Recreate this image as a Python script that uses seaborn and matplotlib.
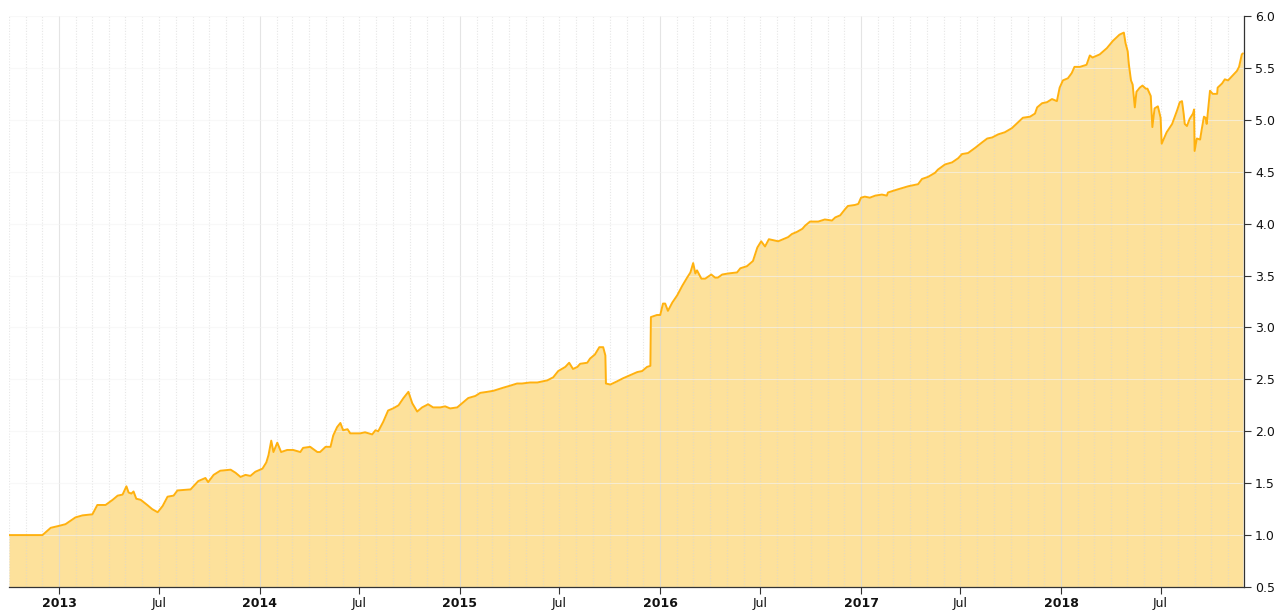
import matplotlib
matplotlib.use("Agg")
import matplotlib.pyplot as plt
import matplotlib.dates as mdates
import matplotlib.ticker as mticker
import numpy as np
import pandas as pd
import seaborn as sns

dates = [
    "2012-10-01", "2012-12-01", "2012-12-16", "2013-01-01", "2013-01-12", "2013-01-30",
    "2013-02-12", "2013-03-02", "2013-03-11", "2013-03-26", "2013-04-08", "2013-04-17",
    "2013-04-26", "2013-05-03", "2013-05-07", "2013-05-12", "2013-05-16", "2013-05-21",
    "2013-05-29", "2013-06-10", "2013-06-19", "2013-06-29", "2013-07-08", "2013-07-17",
    "2013-07-28", "2013-08-04", "2013-08-28", "2013-09-11", "2013-09-24", "2013-09-29",
    "2013-10-09", "2013-10-21", "2013-11-09", "2013-11-18", "2013-11-27", "2013-12-06",
    "2013-12-15", "2013-12-24", "2014-01-06", "2014-01-13", "2014-01-17", "2014-01-22",
    "2014-01-26", "2014-02-02", "2014-02-09", "2014-02-20", "2014-03-03", "2014-03-16",
    "2014-03-21", "2014-04-03", "2014-04-16", "2014-04-21", "2014-05-01", "2014-05-10",
    "2014-05-15", "2014-05-22", "2014-05-28", "2014-06-02", "2014-06-10", "2014-06-15",
    "2014-07-03", "2014-07-12", "2014-07-25", "2014-07-31", "2014-08-05", "2014-08-14",
    "2014-08-23", "2014-09-01", "2014-09-11", "2014-09-20", "2014-09-29", "2014-10-06",
    "2014-10-15", "2014-10-24", "2014-11-04", "2014-11-13", "2014-11-26", "2014-12-05",
    "2014-12-14", "2014-12-27", "2015-01-07", "2015-01-16", "2015-01-29", "2015-02-07",
    "2015-02-20", "2015-03-03", "2015-03-21", "2015-04-03", "2015-04-15", "2015-04-24",
    "2015-05-09", "2015-05-22", "2015-06-09", "2015-06-20", "2015-06-29", "2015-07-12",
    "2015-07-19", "2015-07-26", "2015-08-03", "2015-08-08", "2015-08-21", "2015-08-26",
    "2015-09-04", "2015-09-12", "2015-09-19", "2015-09-23", "2015-09-24", "2015-10-02",
    "2015-10-14", "2015-10-25", "2015-11-07", "2015-11-20", "2015-11-29", "2015-12-08",
    "2015-12-14", "2015-12-15", "2015-12-26", "2016-01-01", "2016-01-06", "2016-01-10",
    "2016-01-15", "2016-01-23", "2016-02-01", "2016-02-10", "2016-02-19", "2016-02-25",
    "2016-03-01", "2016-03-05", "2016-03-08", "2016-03-16", "2016-03-23", "2016-04-03",
    "2016-04-10", "2016-04-15", "2016-04-23", "2016-05-04", "2016-05-20", "2016-05-26",
    "2016-06-07", "2016-06-18", "2016-06-26", "2016-07-03", "2016-07-10", "2016-07-17",
    "2016-08-03", "2016-08-12", "2016-08-21", "2016-08-28", "2016-09-06", "2016-09-16",
    "2016-09-21", "2016-09-30", "2016-10-15", "2016-10-27", "2016-11-09", "2016-11-15",
    "2016-11-24", "2016-12-03", "2016-12-08", "2016-12-21", "2016-12-27", "2017-01-01",
    "2017-01-08", "2017-01-17", "2017-01-27", "2017-02-08", "2017-02-17", "2017-02-19",
    "2017-03-09", "2017-03-28", "2017-04-15", "2017-04-22", "2017-05-03", "2017-05-16",
    "2017-05-21", "2017-06-03", "2017-06-16", "2017-06-27", "2017-07-04", "2017-07-15",
    "2017-07-28", "2017-08-09", "2017-08-19", "2017-08-28", "2017-09-08", "2017-09-20",
    "2017-10-03", "2017-10-09", "2017-10-23", "2017-11-05", "2017-11-14", "2017-11-18",
    "2017-11-27", "2017-12-06", "2017-12-15", "2017-12-24", "2017-12-29", "2018-01-04",
    "2018-01-13", "2018-01-20", "2018-01-25", "2018-02-04", "2018-02-16", "2018-02-22",
    "2018-02-27", "2018-03-12", "2018-03-25", "2018-04-05", "2018-04-17", "2018-04-25",
    "2018-04-28", "2018-05-02", "2018-05-04", "2018-05-08", "2018-05-11", "2018-05-15",
    "2018-05-18", "2018-05-24", "2018-05-29", "2018-06-04", "2018-06-07", "2018-06-13",
    "2018-06-16", "2018-06-20", "2018-06-26", "2018-07-01", "2018-07-03", "2018-07-12",
    "2018-07-22", "2018-07-31", "2018-08-05", "2018-08-09", "2018-08-12", "2018-08-14",
    "2018-08-18", "2018-08-23", "2018-08-29", "2018-08-31", "2018-09-01", "2018-09-05",
    "2018-09-11", "2018-09-14", "2018-09-18", "2018-09-21", "2018-09-23", "2018-09-29",
    "2018-10-04", "2018-10-12", "2018-10-13", "2018-10-21", "2018-10-26", "2018-11-01",
    "2018-11-08", "2018-11-17", "2018-11-21", "2018-11-26", "2018-11-28",
]

values = [
    1.00, 1.00, 1.07, 1.09, 1.105, 1.17,
    1.19, 1.20, 1.29, 1.29, 1.34, 1.38,
    1.39, 1.47, 1.41, 1.40, 1.42, 1.35,
    1.34, 1.29, 1.25, 1.22, 1.28, 1.37,
    1.38, 1.43, 1.44, 1.52, 1.55, 1.51,
    1.58, 1.62, 1.63, 1.60, 1.56, 1.58,
    1.57, 1.61, 1.64, 1.70, 1.77, 1.91,
    1.80, 1.89, 1.80, 1.82, 1.82, 1.80,
    1.84, 1.85, 1.80, 1.80, 1.85, 1.85,
    1.96, 2.04, 2.08, 2.01, 2.02, 1.98,
    1.98, 1.99, 1.97, 2.01, 2.00, 2.09,
    2.20, 2.22, 2.25, 2.32, 2.38, 2.27,
    2.19, 2.23, 2.26, 2.23, 2.23, 2.24,
    2.22, 2.23, 2.28, 2.32, 2.34, 2.37,
    2.38, 2.39, 2.42, 2.44, 2.46, 2.46,
    2.47, 2.47, 2.49, 2.52, 2.58, 2.62,
    2.66, 2.60, 2.62, 2.65, 2.66, 2.70,
    2.74, 2.81, 2.81, 2.73, 2.46, 2.45,
    2.48, 2.51, 2.54, 2.57, 2.58, 2.62,
    2.63, 3.10, 3.12, 3.12, 3.23, 3.23,
    3.16, 3.24, 3.31, 3.40, 3.48, 3.53,
    3.62, 3.52, 3.55, 3.47, 3.47, 3.51,
    3.48, 3.48, 3.51, 3.52, 3.53, 3.57,
    3.59, 3.64, 3.77, 3.83, 3.78, 3.85,
    3.83, 3.85, 3.87, 3.90, 3.92, 3.95,
    3.98, 4.02, 4.02, 4.04, 4.03, 4.06,
    4.08, 4.14, 4.17, 4.18, 4.19, 4.25,
    4.26, 4.25, 4.27, 4.28, 4.27, 4.30,
    4.33, 4.36, 4.38, 4.43, 4.45, 4.49,
    4.52, 4.57, 4.59, 4.63, 4.67, 4.68,
    4.73, 4.78, 4.82, 4.83, 4.86, 4.88,
    4.92, 4.95, 5.02, 5.03, 5.06, 5.12,
    5.16, 5.17, 5.20, 5.18, 5.31, 5.38,
    5.40, 5.45, 5.51, 5.51, 5.53, 5.62,
    5.60, 5.63, 5.69, 5.76, 5.82, 5.84,
    5.74, 5.66, 5.54, 5.38, 5.34, 5.12,
    5.27, 5.31, 5.33, 5.30, 5.30, 5.23,
    4.93, 5.11, 5.13, 5.02, 4.77, 4.88,
    4.96, 5.09, 5.17, 5.18, 5.06, 4.96,
    4.94, 5.01, 5.06, 5.10, 4.70, 4.82,
    4.81, 4.91, 5.03, 5.02, 4.96, 5.28,
    5.25, 5.25, 5.31, 5.35, 5.39, 5.38,
    5.42, 5.47, 5.51, 5.63, 5.64,
]

y_ticks = [0.5, 1.0, 1.5, 2.0, 2.5, 3.0, 3.5, 4.0, 4.5, 5.0, 5.5, 6.0]
year_ticks = ["2013", "2014", "2015", "2016", "2017", "2018"]
mid_ticks = ["2013-07-01", "2014-07-01", "2015-07-01", "2016-07-01", "2017-07-01", "2018-07-01"]
mid_label = "Jul"

LINE = "#FFB10F"
FILL = "#FDE19B"

df = pd.DataFrame({"date": pd.to_datetime(dates), "value": values})

sns.set_theme(style="white")
plt.rcParams["font.family"] = ["DejaVu Sans"]

fig = plt.figure(figsize=(12.76, 6.10), dpi=100)
ax = fig.add_axes([9 / 1276, 1 - 587 / 610, (1244 - 9) / 1276, (587 - 16) / 610])

ax.fill_between(df["date"], 0.5, df["value"], color=FILL, linewidth=0, zorder=1)
sns.lineplot(data=df, x="date", y="value", ax=ax, color=LINE, linewidth=1.4, zorder=3)

xmin, xmax = pd.Timestamp("2012-10-01"), pd.Timestamp("2018-11-30")
ax.set_xlim(xmin, xmax)
ax.set_ylim(0.5, 6.0)

# grid: months dotted, years solid, horizontal faint
for m in pd.date_range(xmin, xmax, freq="MS"):
    if m.month == 1:
        ax.axvline(m, color="#d9d9d9", lw=0.8, ls="-", alpha=0.7, zorder=2)
    else:
        ax.axvline(m, color="#d6d6d6", lw=0.8, ls=(0, (1, 1.5)), alpha=0.6, zorder=2)
for yv in y_ticks:
    ax.axhline(yv, color="#f4f4f4", lw=0.8, alpha=0.6, zorder=2)

# x ticks
major_pos = [pd.Timestamp(y + "-01-01") for y in year_ticks] + [pd.Timestamp(d) for d in mid_ticks]
major_lbl = year_ticks + [mid_label] * len(mid_ticks)
order = np.argsort(major_pos)
ax.set_xticks([major_pos[i] for i in order])
ax.set_xticklabels([major_lbl[i] for i in order])
for t in ax.get_xticklabels():
    if t.get_text() != mid_label:
        t.set_fontweight("bold")
ax.tick_params(axis="x", which="major", direction="out", length=5, width=0.8,
               color="#333333", labelsize=9, labelcolor="#111111", pad=2, bottom=True)

# y axis on the right
ax.yaxis.tick_right()
ax.set_yticks(y_ticks)
ax.yaxis.set_major_formatter(mticker.FormatStrFormatter("%.1f"))
ax.tick_params(axis="y", which="major", direction="out", length=5, width=0.8,
               color="#333333", labelsize=9, labelcolor="#111111", pad=3, right=True, left=False)

for side in ["top", "left"]:
    ax.spines[side].set_visible(False)
for side in ["bottom", "right"]:
    ax.spines[side].set_visible(True)
    ax.spines[side].set_color("#333333")
    ax.spines[side].set_linewidth(0.9)
    ax.spines[side].set_zorder(5)

ax.set_xlabel("")
ax.set_ylabel("")
ax.grid(False)

fig.savefig("out.png", dpi=100)
